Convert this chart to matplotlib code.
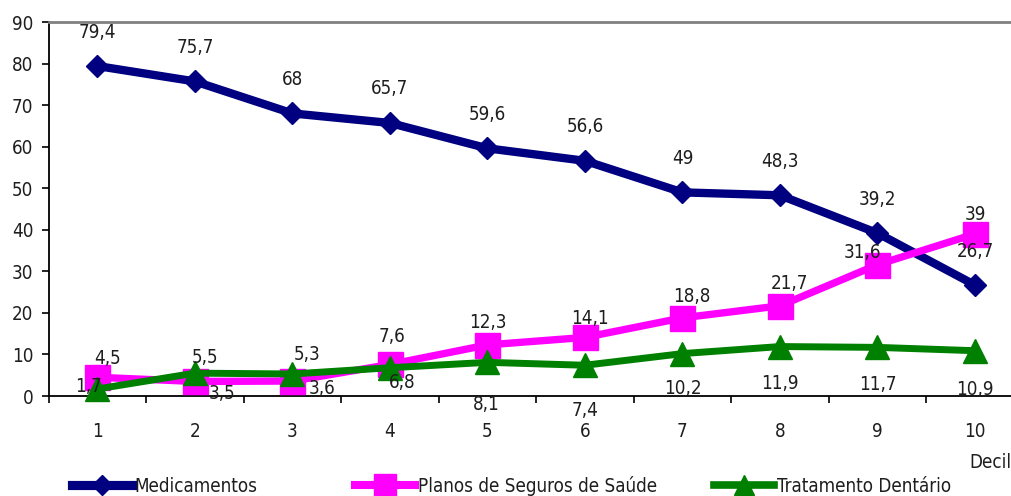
import matplotlib
matplotlib.use("Agg")
import matplotlib.pyplot as plt
from matplotlib.lines import Line2D

plt.rcParams['font.family'] = ['DejaVu Sans']
plt.rcParams['font.stretch'] = 'condensed'

# Data
deciles = [1, 2, 3, 4, 5, 6, 7, 8, 9, 10]
medicamentos = [79.4, 75.7, 68, 65.7, 59.6, 56.6, 49, 48.3, 39.2, 26.7]
planos = [4.5, 3.5, 3.6, 7.6, 12.3, 14.1, 18.8, 21.7, 31.6, 39]
dentario = [1.7, 5.5, 5.3, 6.8, 8.1, 7.4, 10.2, 11.9, 11.7, 10.9]
series_names = ["Medicamentos", "Planos de Seguros de Saúde", "Tratamento Dentário"]
x_axis_label = "Decil"
y_ticks = [0, 10, 20, 30, 40, 50, 60, 70, 80, 90]

# Label offsets (pixels, dx right / dy up) for each data label
med_off = [(0, 34)] * 10
pla_off = [(10, 19), (27, -12), (30, -7), (2, 28), (0, 22), (5, 19),
           (9, 21), (10, 22), (-15, 12), (0, 19)]
den_off = [(-9, 2), (10, 16), (15, 19), (12, -15), (-1, -42), (0, -45),
           (0, -35), (0, -37), (0, -37), (0, -39)]

W, H = 1012, 496
fig = plt.figure(figsize=(W / 100, H / 100), dpi=100)
ax = fig.add_axes([48.7 / W, 100 / H, 975 / W, 374 / H])

text_color = "#1e1e1e"
fs = 13.5
styles = [
    dict(color="#000080", marker="D", markersize=11.5, linewidth=6),
    dict(color="#FF00FF", marker="s", markersize=18, linewidth=5.3),
    dict(color="#008000", marker="^", markersize=17, linewidth=5),
]
data = [medicamentos, planos, dentario]
offsets = [med_off, pla_off, den_off]

handles = []
for i, (vals, st, offs) in enumerate(zip(data, styles, offsets)):
    ln, = ax.plot(deciles, vals, zorder=3 + i, clip_on=False,
                  solid_joinstyle="round", solid_capstyle="round", **st)
    handles.append(ln)
    for xv, yv, (dx, dy) in zip(deciles, vals, offs):
        lbl = f"{yv:g}".replace(".", ",")
        ax.annotate(lbl, (xv, yv), xytext=(dx, dy), textcoords="offset pixels",
                    ha="center", va="center", fontsize=fs, color=text_color,
                    zorder=10)

ax.set_xlim(0.5, 10.5)
ax.set_ylim(0, 90)
ax.set_yticks(y_ticks)
ax.set_xticks(deciles)
ax.set_xticks([d - 0.5 for d in deciles] + [10.5], minor=True)
ax.tick_params(axis="x", which="major", length=0, pad=19, labelsize=fs,
               labelcolor=text_color)
ax.tick_params(axis="x", which="minor", length=5, width=1.2, direction="out",
               color="black")
ax.tick_params(axis="y", which="major", length=5, width=1.2, direction="out",
               pad=6, labelsize=fs, labelcolor=text_color)

ax.spines["right"].set_visible(False)
ax.spines["top"].set_color("#808080")
ax.spines["top"].set_linewidth(2)
ax.spines["left"].set_linewidth(1.3)
ax.spines["bottom"].set_linewidth(1.3)

fig.text(1.0, 1 - 462 / H, x_axis_label, ha="right", va="center",
         fontsize=fs, color=text_color)

# Legend entries along the bottom
leg_x = [72, 355, 714]
for h, name, lx in zip(handles, series_names, leg_x):
    proxy = Line2D([], [], color=h.get_color(), marker=h.get_marker(),
                   markersize=h.get_markersize() * 0.85,
                   linewidth=h.get_linewidth() * 1.1)
    leg = fig.legend(handles=[proxy], labels=[name], loc="center left",
                     bbox_to_anchor=(lx / W, 1 - 486 / H), frameon=False,
                     borderpad=0, borderaxespad=0, handlelength=3.2,
                     handletextpad=0.15, fontsize=fs)
    for t in leg.get_texts():
        t.set_color(text_color)

fig.savefig("out.png", dpi=100)
